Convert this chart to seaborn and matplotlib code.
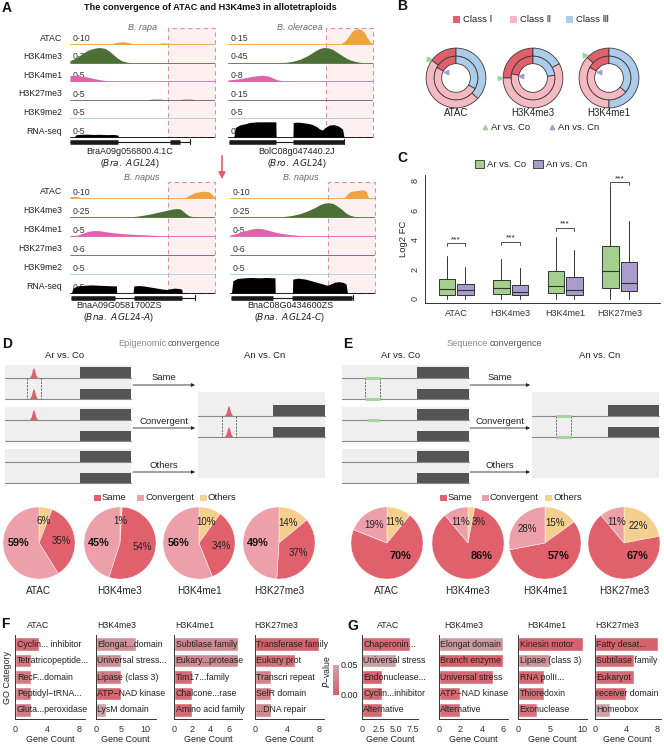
import numpy as np
import matplotlib
matplotlib.use("Agg")
import matplotlib.pyplot as plt
import seaborn as sns
from matplotlib.patches import Rectangle, Polygon, Patch
from matplotlib.colors import LinearSegmentedColormap, Normalize
from matplotlib.transforms import blended_transform_factory
from matplotlib.cm import ScalarMappable

sns.set_theme(style="white")
plt.rcParams['font.family'] = ['Liberation Sans', 'DejaVu Sans']

# ======================= DATA =======================
# ---- Panel A: browser tracks, (genomic position 0-100, signal) ----
track_names = ["ATAC", "H3K4me3", "H3K4me1", "H3K27me3", "H3K9me2", "RNA-seq"]
rapa_ranges = ["0-10", "0-30", "0-5", "0-5", "0-5", "0-5"]
oleracea_ranges = ["0-15", "0-45", "0-8", "0-15", "0-5", "0-5"]
napusA_ranges = ["0-10", "0-25", "0-5", "0-6", "0-5", "0-5"]
napusC_ranges = ["0-10", "0-25", "0-5", "0-6", "0-5", "0-5"]

rapa_atac = [(28, 0), (31, 0.8), (34, 1.3), (37, 1.4), (40, 1.0), (43, 0.3), (45, 0), (60, 0), (62, 0.6), (65, 0.8), (67, 0.4), (68, 0)]
rapa_k4me3 = [(0, 4), (3, 7), (6, 12), (9, 18), (12, 23), (15, 26), (18, 28), (21, 28.5), (24, 27), (27, 22), (30, 15), (33, 8), (36, 3), (40, 0.5), (44, 0)]
rapa_k4me1 = [(0, 1.8), (5, 1.8), (10, 1.5), (15, 1.0), (20, 0.5), (25, 0.2), (30, 0)]
rapa_k27me3 = [(54, 0), (56, 0.2), (63, 0.2), (65, 0), (76, 0), (78, 0.2), (84, 0.2), (86, 0)]
rapa_k9me2 = [(0, 0), (100, 0)]
rapa_rna = [(3, 0), (4, 0.7), (8, 0.85), (12, 0.9), (16, 0.8), (20, 0.85), (25, 0.75), (30, 0.8), (33, 0.6), (33.5, 0)]
rapa_exons = [(0, 33), (69, 76)]
rapa_span = (0, 83)

oleracea_atac = [(75, 0), (78, 0.5), (80, 2), (82, 5), (84, 9), (86, 12.5), (88, 14), (90, 14.5), (92, 13.5), (94, 11), (96, 6), (98, 2), (100, 0.5)]
oleracea_k4me3 = [(35, 0), (40, 1), (45, 4), (50, 10), (55, 20), (60, 33), (63, 40), (66, 43), (69, 42), (72, 38), (75, 30), (78, 22), (81, 14), (84, 8), (87, 4), (90, 1.5), (93, 0)]
oleracea_k4me1 = [(0, 0.6), (5, 1), (10, 1.5), (15, 2.2), (20, 2.8), (24, 3), (28, 2.6), (31, 1.6), (34, 0.7), (38, 0.2), (42, 0)]
oleracea_k27me3 = [(0, 0), (100, 0)]
oleracea_k9me2 = [(60, 0), (62, 0.15), (72, 0.15), (74, 0)]
oleracea_rna = [(4, 0), (5, 3), (8, 3.8), (12, 4.2), (15, 4.6), (18, 4.7), (20, 4.8), (25, 4.8), (30, 4.8), (33, 4.8), (33.2, 0), (44.8, 0), (45, 4.6), (48, 4.7), (52, 4.5), (55, 4.3), (58, 4), (61, 3.3), (63, 2.6), (65, 2.2), (67, 3), (70, 3.8), (73, 3.9), (76, 3.5), (79, 2.5), (80, 0)]
oleracea_exons = [(1, 33), (45, 80)]
oleracea_span = (1, 80)

napusA_atac = [(0, 0.8), (4, 1), (7, 0.3), (9, 0), (78, 0), (80, 0.5), (83, 2), (86, 3.4), (89, 3.8), (92, 4.2), (95, 4), (97, 3), (99, 1), (100, 0.3)]
napusA_k4me3 = [(40, 0), (45, 1), (50, 2.5), (55, 4.5), (60, 7), (65, 9.5), (68, 11), (71, 12.5), (74, 13), (76, 12.5), (78, 9), (80, 5), (82, 2), (85, 0.5), (88, 0)]
napusA_k4me1 = [(0, 0), (5, 0.3), (9, 0.9), (13, 1.5), (17, 1.7), (21, 1.6), (25, 1.3), (30, 1.0), (35, 0.8), (40, 0.6), (45, 0.5), (50, 0.4), (55, 0.3), (60, 0.15), (64, 0)]
napusA_k27me3 = [(0, 0), (100, 0)]
napusA_k9me2 = [(0, 0), (100, 0)]
napusA_rna = [(1, 0), (2, 1.5), (5, 2.2), (10, 2.4), (15, 2.5), (20, 2.4), (25, 2.3), (30, 2.2), (32, 2.2), (32.2, 0), (43.5, 0), (44, 2.2), (48, 2.3), (52, 2.1), (56, 1.8), (60, 1.5), (64, 1.2), (67, 1.1), (69, 1.3), (72, 1.5), (75, 1.4), (77, 1.2), (77.5, 0)]
napusA_exons = [(1, 31), (44, 77)]
napusA_span = (1, 86)

napusC_atac = [(77, 0), (79, 0.5), (81, 2.5), (83, 4), (86, 4.5), (89, 4.7), (92, 5.2), (94, 4), (95, 1), (96, 0)]
napusC_k4me3 = [(33, 0), (38, 1), (43, 2.5), (48, 5), (53, 9), (58, 14), (62, 19), (65, 21.5), (68, 22), (71, 21), (74, 17), (77, 12), (80, 6), (83, 2.5), (86, 0.8), (90, 0)]
napusC_k4me1 = [(0, 0.3), (5, 0.9), (10, 1.6), (15, 2.2), (19, 2.4), (23, 2.2), (27, 1.7), (32, 1.1), (37, 0.7), (42, 0.4), (47, 0.2), (52, 0)]
napusC_k27me3 = [(0, 0), (100, 0)]
napusC_k9me2 = [(0, 0), (100, 0)]
napusC_rna = [(1, 0), (2, 3.8), (5, 4.5), (10, 4.7), (15, 4.8), (20, 4.7), (25, 4.8), (30, 4.7), (31, 4.7), (31.2, 0), (43, 0), (43.3, 4.3), (47, 4.6), (52, 4.3), (56, 3.8), (60, 3.3), (64, 2.8), (67, 2.4), (69, 2.7), (72, 3.3), (75, 3.5), (78, 3.3), (80, 2.8), (81, 0)]
napusC_exons = [(1, 30), (43, 84)]
napusC_span = (1, 85)

# ---- Panel B: donut percentages [Class I, Class II, Class III] ----
b_marks = ["ATAC", "H3K4me3", "H3K4me1"]
b_ar_co = [[15, 48, 37], [25, 58, 17], [13, 37, 50]]
b_an_cn = [[17, 50, 33], [22, 55, 23], [17, 47, 36]]
b_classes = ["Class Ⅰ", "Class Ⅱ", "Class Ⅲ"]

# ---- Panel C: box statistics ----
c_marks = ["ATAC", "H3K4me3", "H3K4me1", "H3K27me3"]
c_ar_q1 = [0.27, 0.31, 0.35, 0.71]
c_ar_med = [0.64, 0.69, 0.88, 1.86]
c_ar_q3 = [1.33, 1.26, 1.88, 3.56]
c_ar_hi = [2.87, 2.70, 4.20, 7.67]
c_an_q1 = [0.27, 0.22, 0.22, 0.49]
c_an_med = [0.60, 0.46, 0.60, 1.08]
c_an_q3 = [1.00, 0.95, 1.48, 2.52]
c_an_hi = [2.14, 2.08, 3.29, 5.28]
c_lo = [0, 0, 0, 0]
c_sig_y = [3.76, 3.85, 4.80, 7.90]

# ---- Panels D/E: pies ----
pie_marks = ["ATAC", "H3K4me3", "H3K4me1", "H3K27me3"]
d_others = [6, 1, 10, 14]
d_same = [35, 54, 34, 37]
d_conv = [59, 45, 56, 49]
e_others = [11, 3, 15, 22]
e_same = [70, 86, 57, 67]
e_conv = [19, 11, 28, 11]

# ---- Panels F/G: GO bars ----
f_atac_terms = ["Cyclin... inhibitor", "Tetratricopeptide...", "RecF...domain", "Peptidyl−tRNA...", "Gluta...peroxidase"]
f_atac_count = [3, 2, 2, 2, 2]
f_atac_p = [0.010, 0.020, 0.020, 0.020, 0.022]
f_k4me3_terms = ["Elongat...domain", "Universal stress...", "Lipase (class 3)", "ATP−NAD kinase", "LysM domain"]
f_k4me3_count = [8, 5, 5, 5, 2]
f_k4me3_p = [0.035, 0.033, 0.020, 0.008, 0.045]
f_k4me1_terms = ["Subtilase family", "Eukary...protease", "Tim17...family", "Chalcone...rase", "Amino acid family"]
f_k4me1_count = [7, 7, 2, 2, 2]
f_k4me1_p = [0.030, 0.030, 0.010, 0.010, 0.010]
f_k27_terms = ["Transferase family", "Eukary prot", "Transcri repeat", "SelR domain", "...DNA repair"]
f_k27_count = [8, 5, 2, 2, 2]
f_k27_p = [0.004, 0.014, 0.025, 0.025, 0.030]

g_atac_terms = ["Chaperonin...", "Universal stress", "Endonuclease...", "Cyclin...inhibitor", "Alternative"]
g_atac_count = [7, 5, 3, 3, 3]
g_atac_p = [0.010, 0.042, 0.005, 0.010, 0.010]
g_k4me3_terms = ["Elongat domain", "Branch enzyme", "Universal stress", "ATP−NAD kinase", "Alternative"]
g_k4me3_count = [6, 6, 5, 2, 2]
g_k4me3_p = [0.040, 0.005, 0.010, 0.010, 0.014]
g_k4me1_terms = ["Kinesin motor", "Lipase (class 3)", "RNA polII...", "Thioredoxin", "Exonuclease"]
g_k4me1_count = [10, 5, 4, 4, 3]
g_k4me1_p = [0.005, 0.036, 0.010, 0.014, 0.016]
g_k27_terms = ["Fatty desat...", "Subtilase family", "Eukaryot", "receiver domain", "Homeobox"]
g_k27_count = [8, 5, 5, 4, 2]
g_k27_p = [0.005, 0.010, 0.010, 0.010, 0.045]

# ======================= STYLE =======================
track_colors = ["#F0A23C", "#4B6F36", "#E062AA", "#7B4F7B", "#A9CCE6", "#000000"]
class_colors = ["#E0606C", "#F4B9C1", "#ABCDEA"]
tri_green, tri_purple = "#9FD39A", "#A99CCB"
box_green, box_purple = "#A3CF8F", "#A99BCB"
pie_colors = ["#F5CF8E", "#E0606C", "#EDA0A9"]  # others, same, convergent
pcmap = LinearSegmentedColormap.from_list("pv", ["#D95A66", "#C9AAAE"])
pnorm = Normalize(0, 0.05)
TXT = "#222222"

W, H = 664, 744
fig = plt.figure(figsize=(W / 100, H / 100), dpi=100)


def px_axes(x0, y0, w, h):
    ax = fig.add_axes([x0 / W, 1 - (y0 + h) / H, w / W, h / H])
    ax.set_facecolor("none")
    return ax


# ======================= PANEL A =======================
def draw_block(x0, base0, row, tracks, ranges, exons, span, label_left):
    ax = px_axes(x0, base0 - 0.95 * row, 145, 6.55 * row)
    ax.set_xlim(0, 100)
    ax.set_ylim(-5.6, 0.95)
    ax.axis("off")
    ax.add_patch(Rectangle((67.5, -5), 32.5, 5.85, facecolor="#FDF0F1", edgecolor="#E0909A",
                           lw=0.8, ls=(0, (4, 3)), zorder=0, clip_on=False))
    tr = blended_transform_factory(ax.transAxes, ax.transData)
    for i, (pts, rng, col) in enumerate(zip(tracks, ranges, track_colors)):
        b = -i
        vmax = float(rng.split("-")[1])
        xs = [p[0] for p in pts]
        ys = [b + p[1] / vmax * 0.85 for p in pts]
        ax.plot([0, 100], [b, b], color=col, lw=0.6, zorder=2)
        ax.fill_between(xs, b, ys, color=col, lw=0, zorder=3)
        ax.text(1.5, b + 0.06, rng, fontsize=6.3, color="#333", va="bottom", ha="left", zorder=2.5)
        if label_left:
            ax.text(-0.055, b + 0.32, track_names[i], transform=tr, ha="right", va="center",
                    fontsize=6.3, color=TXT)
    g = -5.25
    ax.plot(span, [g, g], color="k", lw=0.8, solid_capstyle="butt")
    ax.plot([span[1], span[1]], [g - 0.12, g + 0.12], color="k", lw=0.8)
    for s, e in exons:
        ax.plot([s, e], [g, g], color="k", lw=3.3, solid_capstyle="butt")
    return ax


draw_block(70, 44, 18.6, [rapa_atac, rapa_k4me3, rapa_k4me1, rapa_k27me3, rapa_k9me2, rapa_rna],
           rapa_ranges, rapa_exons, rapa_span, True)
draw_block(228, 44, 18.6, [oleracea_atac, oleracea_k4me3, oleracea_k4me1, oleracea_k27me3, oleracea_k9me2, oleracea_rna],
           oleracea_ranges, oleracea_exons, oleracea_span, False)
draw_block(70, 198, 19, [napusA_atac, napusA_k4me3, napusA_k4me1, napusA_k27me3, napusA_k9me2, napusA_rna],
           napusA_ranges, napusA_exons, napusA_span, True)
draw_block(230, 198, 19, [napusC_atac, napusC_k4me3, napusC_k4me1, napusC_k27me3, napusC_k9me2, napusC_rna],
           napusC_ranges, napusC_exons, napusC_span, False)

# ======================= PANEL B =======================
b_centers = [456, 533, 609]
for cx, mark, outer, inner in zip(b_centers, b_marks, b_ar_co, b_an_cn):
    ax = px_axes(cx - 35, 78 - 35, 70, 70)
    ax.pie(outer, radius=1.0, colors=class_colors, startangle=90, counterclock=True,
           wedgeprops=dict(width=0.27, edgecolor="#3a3a3a", linewidth=0.6))
    ax.pie(inner, radius=0.73, colors=class_colors, startangle=90, counterclock=True,
           wedgeprops=dict(width=0.25, edgecolor="#3a3a3a", linewidth=0.6))
    ax.set_xlim(-1.17, 1.17)
    ax.set_ylim(-1.17, 1.17)
    ax.set_aspect("equal")
    a1 = np.deg2rad(90 + 3.6 * outer[0])
    a2 = np.deg2rad(90 + 3.6 * inner[0])
    ax.plot(1.1 * np.cos(a1), 1.1 * np.sin(a1), marker=">", ms=3.2, color=tri_green, clip_on=False)
    ax.plot(0.4 * np.cos(a2), 0.4 * np.sin(a2), marker="<", ms=3.2, color=tri_purple, clip_on=False)
    ax.text(0, -1.17, mark, ha="center", va="center", fontsize=7, color=TXT, clip_on=False)

# ======================= PANEL C =======================
axc = px_axes(425, 175, 235, 128)
pos = np.arange(len(c_marks))
ar_stats = [dict(med=m, q1=a, q3=b, whislo=l, whishi=h, fliers=[])
            for a, m, b, l, h in zip(c_ar_q1, c_ar_med, c_ar_q3, c_lo, c_ar_hi)]
an_stats = [dict(med=m, q1=a, q3=b, whislo=l, whishi=h, fliers=[])
            for a, m, b, l, h in zip(c_an_q1, c_an_med, c_an_q3, c_lo, c_an_hi)]
for stats, off, col in [(ar_stats, -0.17, box_green), (an_stats, 0.17, box_purple)]:
    axc.bxp(stats, positions=pos + off, widths=0.3, patch_artist=True, showfliers=False, showcaps=False,
            boxprops=dict(facecolor=col, edgecolor="#333", lw=0.7),
            medianprops=dict(color="#333", lw=0.8),
            whiskerprops=dict(color="#333", lw=0.7))
for i, y in enumerate(c_sig_y):
    axc.plot([i - 0.17, i - 0.17, i + 0.17, i + 0.17], [y - 0.18, y, y, y - 0.18], color="#333", lw=0.6)
    axc.text(i, y + 0.02, "***", ha="center", va="bottom", fontsize=6, color=TXT)
axc.set_xlim(-0.57, 3.74)
axc.set_ylim(-0.3, 8.4)
axc.set_xticks(pos)
axc.set_xticklabels(c_marks, fontsize=6.5, color=TXT)
axc.set_yticks([0, 2, 4, 6, 8])
axc.set_yticklabels(["0", "2", "4", "6", "8"], rotation=90, va="center", fontsize=6.5, color=TXT)
axc.set_ylabel("Log2 FC", fontsize=6.8, labelpad=2, color=TXT)
sns.despine(ax=axc)
for s in ["left", "bottom"]:
    axc.spines[s].set_linewidth(0.7)
    axc.spines[s].set_color("#333")
axc.tick_params(length=2.5, width=0.6, pad=1.5, colors="#333")
axc.legend(handles=[Patch(facecolor=box_green, edgecolor="#333", lw=0.6),
                    Patch(facecolor=box_purple, edgecolor="#333", lw=0.6)],
           labels=["Ar vs. Co", "An vs. Cn"], loc="lower center", bbox_to_anchor=(0.45, 1.0),
           ncol=2, frameon=False, fontsize=6.8, handlelength=1.0, handleheight=1.0,
           handletextpad=0.3, columnspacing=0.8, borderaxespad=0.2)

# ======================= PANELS D / E pies =======================
def pie_panel(cx, cy, vals, bold_idx, bold_ang, bold_r, title):
    ax = px_axes(cx - 40, cy - 40, 80, 80)
    ax.pie(vals, colors=pie_colors, startangle=90, counterclock=False,
           wedgeprops=dict(edgecolor="white", linewidth=0.3))
    ax.set_xlim(-1.11, 1.11)
    ax.set_ylim(-1.11, 1.11)
    ax.set_aspect("equal")
    cum = 0
    for k, v in enumerate(vals):
        mid = 90 - 3.6 * (cum + v / 2)
        cum += v
        r = 0.62
        if k == 0 and v < 5 and bold_idx != 2:
            mid, r = mid - 22, 0.66
        mid = np.deg2rad(mid)
        if k == bold_idx:
            a = np.deg2rad(bold_ang)
            ax.text(bold_r * np.cos(a), bold_r * np.sin(a), f"{v}%", fontweight="bold", fontsize=7.8,
                    ha="center", va="center", color="#111")
        else:
            ax.text(r * np.cos(mid), r * np.sin(mid), f"{v}%", fontsize=7, ha="center",
                    va="center", color="#222")
    ax.text(0, -1.33, title, ha="center", va="center", fontsize=7.2, color=TXT, clip_on=False)


for cx, m, o, s, c in zip([39, 120, 199, 279], pie_marks, d_others, d_same, d_conv):
    pie_panel(cx, 543, [o, s, c], 2, 180, 0.58, m)
for cx, m, o, s, c in zip([387, 468, 545, 624], pie_marks, e_others, e_same, e_conv):
    pie_panel(cx, 543, [o, s, c], 1, -45, 0.52, m)

# ======================= PANELS F / G bars =======================
def go_bar(x0, w, xmax, terms, counts, pvals, ticks, ticklabels, ylabel=None):
    ax = px_axes(x0, 635, w, 84)
    pal = {t: pcmap(pnorm(p)) for t, p in zip(terms, pvals)}
    sns.barplot(x=counts, y=terms, hue=terms, palette=pal, legend=False, orient="h",
                width=0.8, ax=ax, saturation=1)
    ax.set_xlim(0, xmax)
    ax.set_ylim(4.55, -0.55)
    ax.set_yticks([])
    ax.set_ylabel("")
    tr = blended_transform_factory(ax.transAxes, ax.transData)
    for i, t in enumerate(terms):
        ax.text(0.025, i, t, transform=tr, ha="left", va="center", fontsize=6.3, color=TXT, clip_on=False)
    ax.set_xticks(ticks)
    ax.set_xticklabels(ticklabels, fontsize=6.5, color=TXT)
    ax.set_xlabel("Gene Count", fontsize=6.5, labelpad=1, color=TXT)
    sns.despine(ax=ax)
    for s in ["left", "bottom"]:
        ax.spines[s].set_linewidth(0.7)
        ax.spines[s].set_color("#333")
    ax.tick_params(axis="x", length=2.5, width=0.6, pad=1.5, colors="#333")
    if ylabel:
        ax.set_ylabel(ylabel, fontsize=6.5, labelpad=2, color=TXT)
    return ax


go_bar(15, 70, 8.8, f_atac_terms, f_atac_count, f_atac_p, [0, 4, 8], ["0", "4", "8"], "GO Category")
go_bar(95.7, 60, 12, f_k4me3_terms, f_k4me3_count, f_k4me3_p, [0, 5, 10], ["0", "5", "10"])
go_bar(174, 68, 7.4, f_k4me1_terms, f_k4me1_count, f_k4me1_p, [0, 2, 4, 6], ["0", "2", "4", "6"])
go_bar(254.7, 69.5, 8.6, f_k27_terms, f_k27_count, f_k27_p, [0, 4, 8], ["0", "4", "8"])
go_bar(362, 56, 8.2, g_atac_terms, g_atac_count, g_atac_p, [0, 2.5, 5, 7.5], ["0", "2.5", "5.0", "7.5"])
go_bar(438.7, 69, 6.4, g_k4me3_terms, g_k4me3_count, g_k4me3_p, [0, 2, 4, 6], ["0", "2", "4", "6"])
go_bar(518, 68.6, 10.6, g_k4me1_terms, g_k4me1_count, g_k4me1_p, [0, 5, 10], ["0", "5", "10"])
go_bar(594.7, 66, 8.4, g_k27_terms, g_k27_count, g_k27_p, [0, 4, 8], ["0", "4", "8"])

cax = px_axes(333, 665, 6, 30)
cb = fig.colorbar(ScalarMappable(norm=pnorm, cmap=pcmap), cax=cax)
cb.outline.set_visible(False)
cb.set_ticks([0, 0.05])
cb.set_ticklabels(["0.00", "0.05"])
cax.tick_params(length=0, labelsize=6.5, pad=1.5, colors=TXT)

# ======================= OVERLAY (text, schematics) =======================
ov = fig.add_axes([0, 0, 1, 1], facecolor="none")
ov.set_xlim(0, W)
ov.set_ylim(H, 0)
ov.axis("off")

def lab(x, y, s, **kw):
    d = dict(fontsize=6.5, color=TXT, ha="center", va="center")
    d.update(kw)
    ov.text(x, y, s, **d)

for L, x, y in [("A", 7, 8), ("B", 402, 6), ("C", 402, 158), ("D", 7, 344), ("E", 348, 344), ("F", 5, 624), ("G", 353, 626)]:
    lab(x, y, L, fontsize=10, fontweight="bold", color="#111")

lab(210, 7, "The convergence of ATAC and H3K4me3 in allotetraploids", fontweight="bold", fontsize=6.6, color="#111")
for x, y, s in [(142, 27, "B. rapa"), (300, 27, "B. oleracea"), (142, 178, "B. napus"), (301, 178, "B. napus")]:
    lab(x, y, s, style="italic", color="#666", fontsize=6.5)
for x, y, a, b in [(130, 152, "BraA09g056800.4.1C", r"($\it{Bra.\ AGL24}$)"),
                   (297, 152, "BolC08g047440.2J", r"($\it{Bro.\ AGL24}$)"),
                   (119, 306, "BnaA09G0581700ZS", r"($\it{Bna.\ AGL24}$-$\it{A}$)"),
                   (290, 306, "BnaC08G0434600ZS", r"($\it{Bna.\ AGL24}$-$\it{C}$)")]:
    lab(x, y, a, fontsize=6.5)
    lab(x, y + 11, b, fontsize=6.5)
# red arrow between species and hybrid
ov.annotate("", xy=(222, 182), xytext=(222, 153),
            arrowprops=dict(arrowstyle="-|>", color="#E0606C", lw=1.2, mutation_scale=10))

# Panel B legends
for x, c, t in zip([453, 510, 566], class_colors, b_classes):
    ov.add_patch(Rectangle((x, 16), 6.5, 6.5, facecolor=c, edgecolor="none"))
    lab(x + 10, 19.5, t, ha="left", fontsize=6.8)
ov.plot(485, 127, marker="^", ms=3.2, color=tri_green)
lab(491, 127, "Ar vs. Co", ha="left", fontsize=6.8)
ov.plot(552, 127, marker="^", ms=3.2, color=tri_purple)
lab(558, 127, "An vs. Cn", ha="left", fontsize=6.8)

# Schematics D / E
GRAYBG, DARK, LINE = "#EFEFEF", "#555555", "#8A8A8A"


def gene_panel(xl, xr, bx, t, hgt=35, l1off=13, l2off=34):
    ov.add_patch(Rectangle((xl, t), xr - xl, hgt, facecolor=GRAYBG, edgecolor="none"))
    l1, l2 = t + l1off, t + l2off
    ov.add_patch(Rectangle((bx, l1 - 11), xr - bx, 11, facecolor=DARK, edgecolor="none"))
    ov.add_patch(Rectangle((bx, l2 - 10), xr - bx, 10, facecolor=DARK, edgecolor="none"))
    ov.plot([xl, xr], [l1, l1], color=LINE, lw=0.8)
    ov.plot([xl, xr], [l2, l2], color=LINE, lw=0.8)
    return l1, l2


def peak(c, l):
    ov.add_patch(Polygon([(c - 4, l), (c - 2.2, l - 3), (c - 1, l - 8), (c, l - 10), (c + 1, l - 8),
                          (c + 2.2, l - 3), (c + 4, l)], closed=True, facecolor="#E0606C", edgecolor="none"))


def green(a, b, l):
    ov.plot([a, b], [l, l], color="#A5D6A0", lw=2.2, solid_capstyle="butt")


def dashes(a, b, l1, l2):
    for x in (a, b):
        ov.plot([x, x], [l1, l2], color="#555", lw=0.6, ls=(0, (2.5, 1.5)))


# D
l1, l2 = gene_panel(5, 131, 80, 365)
peak(34, l1); peak(34, l2); dashes(27, 41, l1, l2)
l1, l2 = gene_panel(5, 131, 80, 407)
peak(34, l1)
gene_panel(5, 131, 80, 449)
ov.add_patch(Rectangle((198, 392), 127, 86, facecolor=GRAYBG, edgecolor="none"))
l1, l2 = gene_panel(198, 325, 273, 403, hgt=0)
peak(229, l1); peak(229, l2); dashes(222, 236, l1, l2)
# E
l1, l2 = gene_panel(342, 469, 417, 365)
dashes(365, 380, l1, l2); green(365, 380, l1); green(365, 380, l2)
l1, l2 = gene_panel(342, 469, 417, 407)
green(367, 379, l1)
gene_panel(342, 469, 417, 449)
ov.add_patch(Rectangle((532, 392), 127, 86, facecolor=GRAYBG, edgecolor="none"))
l1, l2 = gene_panel(532, 659, 608, 403, hgt=0)
dashes(556, 571, l1, l2); green(556, 571, l1); green(556, 571, l2)

for x0, x1 in [(133, 195), (470, 530)]:
    for y, s in [(385, "Same"), (428, "Convergent"), (472, "Others")]:
        ov.annotate("", xy=(x1, y), xytext=(x0, y),
                    arrowprops=dict(arrowstyle="-|>", color="#222", lw=0.6, mutation_scale=5, shrinkA=0, shrinkB=0))
        lab((x0 + x1) / 2, y - 7, s, fontsize=6.8)

lab(166, 343, "Epigenomic", ha="right", color="#888", fontsize=6.6)
lab(168, 343, "convergence", ha="left", color="#555", fontsize=6.6)
lab(488, 343, "Sequence", ha="right", color="#888", fontsize=6.6)
lab(490, 343, "convergence", ha="left", color="#555", fontsize=6.6)
for x, s in [(65, "Ar vs. Co"), (265, "An vs. Cn"), (401, "Ar vs. Co"), (600, "An vs. Cn")]:
    lab(x, 356, s, fontsize=6.8)

# pie legends
for xs, y in [([94, 137, 200], 498), ([440, 482, 545], 498)]:
    for x, c, t in zip(xs, [pie_colors[1], pie_colors[2], pie_colors[0]], ["Same", "Convergent", "Others"]):
        ov.add_patch(Rectangle((x, y - 3.2), 6.5, 6.5, facecolor=c, edgecolor="none"))
        lab(x + 8, y, t, ha="left", fontsize=6.8)

# F/G titles
for x, s in [(27, "ATAC"), (97, "H3K4me3"), (175, "H3K4me1"), (254, "H3K27me3"),
             (377, "ATAC"), (444, "H3K4me3"), (527, "H3K4me1"), (595, "H3K27me3")]:
    lab(x, 626, s, ha="left", fontsize=6.3)
lab(326, 672, r"$\it{P}$−value", rotation=90, fontsize=6.3)

fig.savefig("out.png", dpi=100)
